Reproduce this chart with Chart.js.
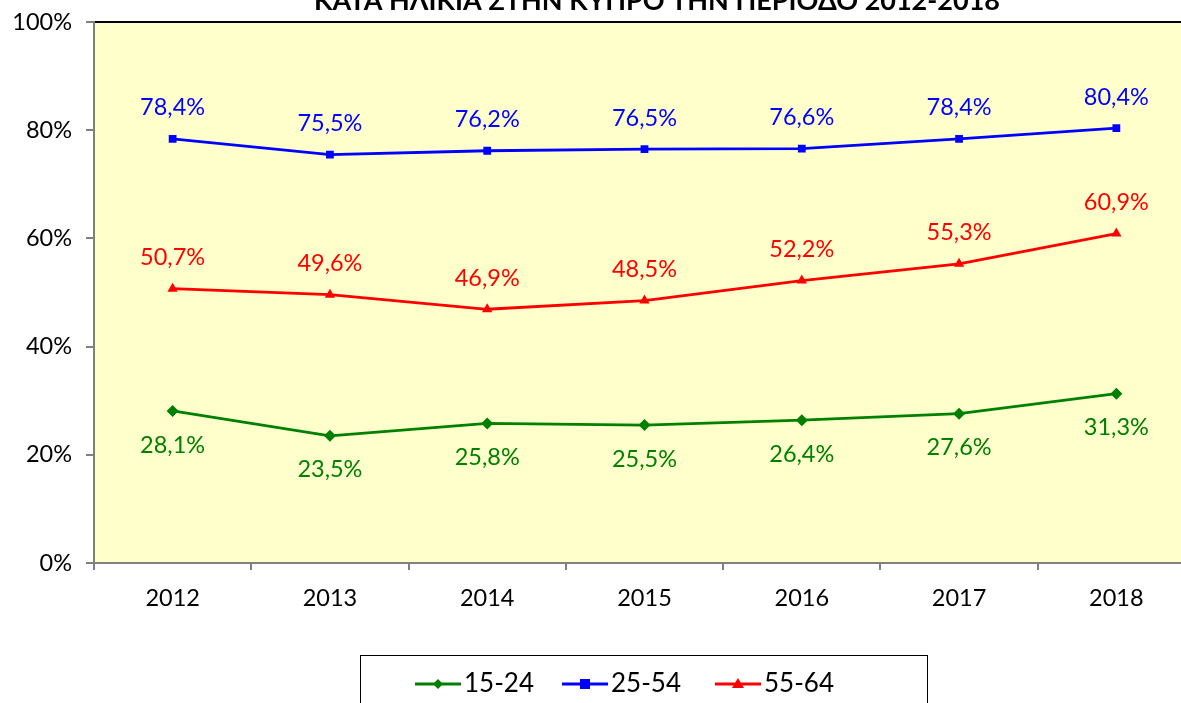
<!DOCTYPE html>
<html>
<head>
<meta charset="utf-8">
<script src="https://cdn.jsdelivr.net/npm/chart.js@4.4.1/dist/chart.umd.min.js"></script>
<style>
  html, body { margin: 0; padding: 0; background: #fff; overflow: hidden; }
  #wrap { width: 1201px; height: 703px; }
</style>
</head>
<body>
<div id="wrap"><canvas id="chart"></canvas></div>
<script>
// data
var years = ['2012', '2013', '2014', '2015', '2016', '2017', '2018'];
var age1524 = [28.1, 23.5, 25.8, 25.5, 26.4, 27.6, 31.3];
var age2554 = [78.4, 75.5, 76.2, 76.5, 76.6, 78.4, 80.4];
var age5564 = [50.7, 49.6, 46.9, 48.5, 52.2, 55.3, 60.9];
var seriesNames = ['15-24', '25-54', '55-64'];
var yTicks = [0, 20, 40, 60, 80, 100];
var titleText = 'ΚΑΤΑ ΗΛΙΚΙΑ ΣΤΗΝ ΚΥΠΡΟ ΤΗΝ ΠΕΡΙΟΔΟ 2012-2018';

var FONT = 'Lato, "Open Sans", sans-serif';

function fmt(v) {
  return v.toFixed(1).replace('.', ',') + '%';
}

// yellow plot background + frame
var plotBg = {
  id: 'plotBg',
  beforeDraw: function(chart) {
    var a = chart.chartArea, c = chart.ctx;
    c.save();
    c.fillStyle = '#FFFFCC';
    c.fillRect(a.left, a.top, a.right - a.left, a.bottom - a.top);
    c.strokeStyle = '#000';
    c.lineWidth = 2;
    c.beginPath();
    c.moveTo(a.left, a.top);
    c.lineTo(a.right, a.top);
    c.stroke();
    c.restore();
  }
};

// value labels next to each point
var valueLabels = {
  id: 'valueLabels',
  afterDatasetsDraw: function(chart) {
    var c = chart.ctx;
    c.save();
    c.font = '23.5px ' + FONT;
    c.textAlign = 'center';
    c.textBaseline = 'middle';
    chart.data.datasets.forEach(function(ds, i) {
      var meta = chart.getDatasetMeta(i);
      c.fillStyle = ds.borderColor;
      meta.data.forEach(function(pt, j) {
        c.fillText(fmt(ds.data[j]), pt.x, pt.y + ds.labelShift);
      });
    });
    c.restore();
  }
};

// cut-off title line at the top
var topTitle = {
  id: 'topTitle',
  afterDraw: function(chart) {
    var c = chart.ctx;
    c.save();
    c.font = 'bold 27px ' + FONT;
    c.fillStyle = '#000';
    c.textAlign = 'center';
    c.textBaseline = 'alphabetic';
    c.fillText(titleText, 657, 10);
    c.restore();
  }
};

// boxed legend, Excel style (line with marker)
var boxLegend = {
  id: 'boxLegend',
  afterDraw: function(chart) {
    var c = chart.ctx;
    c.save();
    c.strokeStyle = '#000';
    c.lineWidth = 1;
    c.strokeRect(360.5, 655.5, 567, 60);
    var starts = [415, 562, 715];
    c.font = '26px ' + FONT;
    c.textBaseline = 'middle';
    c.textAlign = 'left';
    chart.data.datasets.forEach(function(ds, i) {
      var x = starts[i], y = 684;
      c.strokeStyle = ds.borderColor;
      c.fillStyle = ds.borderColor;
      c.lineWidth = 3;
      c.beginPath();
      c.moveTo(x, y);
      c.lineTo(x + 46, y);
      c.stroke();
      var mx = x + 23;
      c.beginPath();
      if (ds.pointStyle === 'rectRot') {
        c.moveTo(mx, y - 5); c.lineTo(mx + 5, y); c.lineTo(mx, y + 5); c.lineTo(mx - 5, y);
      } else if (ds.pointStyle === 'rect') {
        c.rect(mx - 5, y - 5, 10, 10);
      } else {
        c.moveTo(mx, y - 6); c.lineTo(mx + 6, y + 4); c.lineTo(mx - 6, y + 4);
      }
      c.closePath();
      c.fill();
      c.fillStyle = '#000';
      c.fillText(ds.label, x + 49, y);
    });
    c.restore();
  }
};

var ctx = document.getElementById('chart');
var myChart = new Chart(ctx, {
  type: 'line',
  data: {
    labels: years,
    datasets: [
      { label: seriesNames[0], data: age1524, borderColor: '#008000', backgroundColor: '#008000',
        pointStyle: 'rectRot', pointRadius: 6, labelShift: 34 },
      { label: seriesNames[1], data: age2554, borderColor: '#0000FF', backgroundColor: '#0000FF',
        pointStyle: 'rect', pointRadius: 5.5, labelShift: -31 },
      { label: seriesNames[2], data: age5564, borderColor: '#FF0000', backgroundColor: '#FF0000',
        pointStyle: 'triangle', pointRadius: 6, labelShift: -31 }
    ]
  },
  options: {
    responsive: true,
    maintainAspectRatio: false,
    animation: false,
    devicePixelRatio: 1,
    elements: { line: { borderWidth: 2.8, tension: 0 }, point: { borderWidth: 0 } },
    layout: { padding: { top: 22, left: 0, right: 0, bottom: 0 } },
    plugins: { legend: { display: false }, tooltip: { enabled: false }, title: { display: false } },
    scales: {
      x: {
        offset: true,
        grid: { offset: true, drawOnChartArea: false, drawTicks: true, tickLength: 7, color: '#808080', lineWidth: 2 },
        border: { color: '#808080', width: 2 },
        ticks: { color: '#000', font: { family: FONT, size: 23.5 }, padding: 14, maxRotation: 0 },
        afterFit: function(s) { s.height = 140; }
      },
      y: {
        min: 0, max: 100,
        afterBuildTicks: function(s) { s.ticks = yTicks.map(function(v) { return { value: v }; }); },
        grid: { drawOnChartArea: false, drawTicks: true, tickLength: 8, color: '#808080', lineWidth: 2 },
        border: { color: '#808080', width: 2 },
        ticks: { color: '#000', font: { family: FONT, size: 23.5 }, padding: 14,
          callback: function(v) { return v + '%'; } },
        afterFit: function(s) { s.width = 94; s.paddingTop = 0; s.paddingBottom = 0; }
      }
    }
  },
  plugins: [plotBg, valueLabels, topTitle, boxLegend]
});
</script>
</body>
</html>
